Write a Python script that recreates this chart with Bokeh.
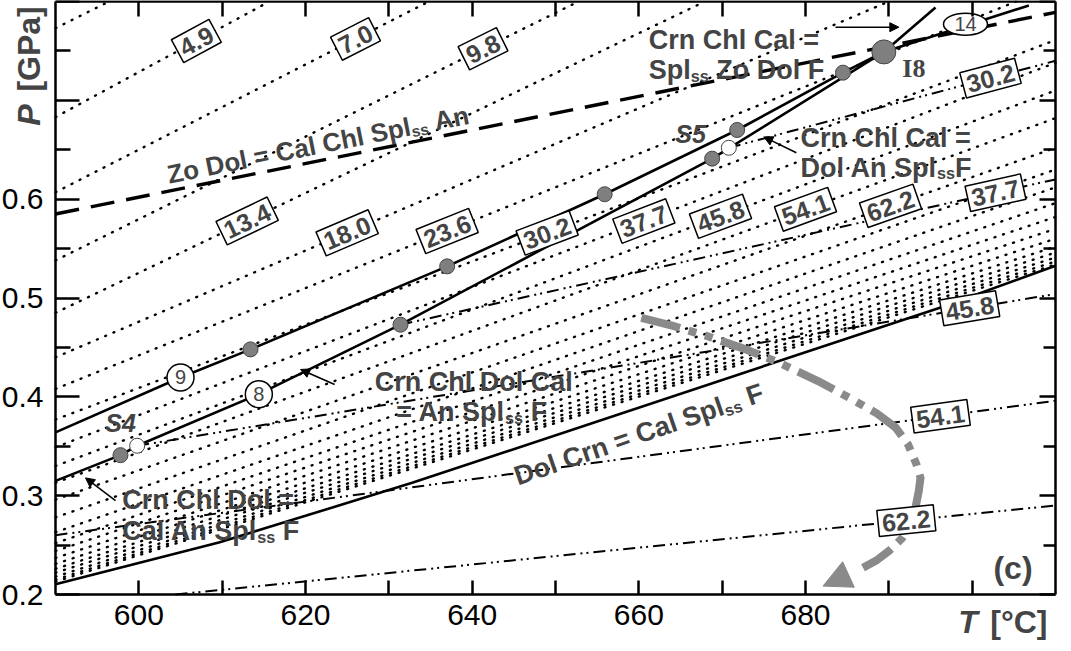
import json, math
import numpy as np
from bokeh.plotting import figure
from bokeh.models import (Label, Range1d, LinearAxis, FixedTicker, Arrow, NormalHead,
                          CustomJSTickFormatter)
from bokeh.embed import file_html
from bokeh.resources import INLINE

# ---------------- axes data ----------------
T_MIN, T_MAX = 590, 710
P_MIN, P_MAX = 0.2, 0.8
T_TICKS = [600, 610, 620, 630, 640, 650, 660, 670, 680, 690, 700]
T_LABELS = {"600": "600", "620": "620", "640": "640", "660": "660", "680": "680"}
P_TICKS = [0.2, 0.3, 0.4, 0.5, 0.6, 0.7, 0.8]
P_MINOR_TICKS = [0.25, 0.35, 0.45, 0.55, 0.65, 0.75]
P_LABELS = {"0.2": "0.2", "0.3": "0.3", "0.4": "0.4", "0.5": "0.5", "0.6": "0.6"}

# ---------------- reaction curves ----------------
R9_T = [590.0, 605.0, 613.4, 637.0, 655.9, 671.8, 684.5, 689.4]
R9_P = [0.364, 0.4196, 0.448, 0.532, 0.605, 0.670, 0.728, 0.749]
R8_T = [590.0, 597.8, 599.8, 614.4, 631.4, 668.8, 689.4]
R8_P = [0.315, 0.341, 0.3505, 0.4027, 0.473, 0.641, 0.749]
RUP_T = [689.4, 695.6]
RUP_P = [0.749, 0.794]
R14_T = [689.4, 706.8]
R14_P = [0.749, 0.796]
DOLCRN_T = [590.0, 609.6, 620.0, 632.8, 696.4, 710.0]
DOLCRN_P = [0.2104, 0.2526, 0.2796, 0.313, 0.491, 0.5326]
ZODOL_T = [590.0, 710.0]
ZODOL_P = [0.585, 0.789]

GREY_T = [597.8, 613.4, 631.4, 637.0, 655.9, 668.8, 671.8, 684.5]
GREY_P = [0.341, 0.448, 0.473, 0.532, 0.605, 0.641, 0.670, 0.728]
WHITE_T = [599.8, 670.8]
WHITE_P = [0.3505, 0.652]
I8_T, I8_P = 689.4, 0.749

# ---------------- dotted isopleths (P at 590 and at 710) ----------------
DOT_P590 = [0.773, 0.683, 0.607, 0.538, 0.485, 0.440, 0.408, 0.377, 0.349, 0.330, 0.313, 0.296,
            0.278, 0.263, 0.252, 0.244, 0.237, 0.231, 0.226, 0.222, 0.218, 0.215, 0.213]
DOT_P710 = [1.277, 1.230, 1.124, 1.039, 0.970, 0.872, 0.816, 0.761, 0.738, 0.710, 0.682, 0.652,
            0.630, 0.612, 0.596, 0.582, 0.570, 0.560, 0.552, 0.546, 0.541, 0.537, 0.534]
DOT_LABELS = ["", "4.9", "7.0", "9.8", "13.4", "18.0", "23.6", "30.2", "37.7", "45.8", "54.1", "62.2"]
DOT_LABEL_T = [None, 606.9, 626.0, 641.3, 613.0, 625.0, 637.0, 649.0, 660.6, 669.8, 680.0, 690.2]

# ---------------- dash-dot isopleths ----------------
DD_LABELS = ["30.2", "37.7", "45.8", "54.1", "62.2"]
DD_T0 = [670.8, 631.4, 599.8, 590.0, 604.4]
DD_P0 = [0.652, 0.473, 0.3505, 0.260, 0.200]
DD_T1 = [710.0, 710.0, 710.0, 710.0, 710.0]
DD_P1 = [0.740, 0.620, 0.504, 0.396, 0.290]
DD_LABEL_T = [702.2, 702.8, 699.7, 696.2, 692.1]

# ---------------- P-T path ----------------
PATH_T = [660.3, 664.0, 668.0, 672.5, 676.7, 681.5, 685.9, 688.6, 690.8, 692.3, 693.3, 693.8,
          693.6, 692.8, 691.6, 690.0, 688.6, 686.9]
PATH_P = [0.480, 0.472, 0.462, 0.449, 0.435, 0.416, 0.396, 0.383, 0.369, 0.352, 0.332, 0.318,
          0.305, 0.271, 0.257, 0.244, 0.235, 0.227]
PATH_TIP = (682.1, 0.2085)

# ---------------- figure geometry ----------------
# the plotting frame covers the whole canvas; the diagram box (590-710 / 0.2-0.8)
# is drawn by four axes at fixed locations, so that the axis titles can sit beside it
BOX_W, BOX_H = 1000, 593
PAD_L, PAD_R, PAD_T, PAD_B = 55, 2, 1, 49
PX_T = BOX_W / (T_MAX - T_MIN)
PX_P = BOX_H / (P_MAX - P_MIN)
FONT = "Liberation Sans"

p = figure(frame_width=BOX_W + PAD_L + PAD_R, frame_height=BOX_H + PAD_T + PAD_B,
           x_range=Range1d(T_MIN - PAD_L / PX_T, T_MAX + PAD_R / PX_T),
           y_range=Range1d(P_MIN - PAD_B / PX_P, P_MAX + PAD_T / PX_P),
           x_axis_location=None, y_axis_location=None,
           output_backend="svg", toolbar_location=None,
           min_border=0)
p.grid.grid_line_color = None
p.outline_line_color = None
p.background_fill_color = "white"
p.border_fill_color = "white"


def xfmt(labels):
    return CustomJSTickFormatter(code="const L = %s; const k = Math.round(tick).toString(); return (k in L) ? L[k] : '';" % json.dumps(labels))


def yfmt(labels):
    return CustomJSTickFormatter(code="const L = %s; const k = tick.toFixed(1); return (k in L) ? L[k] : '';" % json.dumps(labels))


def make_axis(ticks, minor, fmt, loc, bounds, tin, minor_in, show_labels, standoff=0):
    ax = LinearAxis(ticker=FixedTicker(ticks=ticks, minor_ticks=minor), formatter=fmt,
                    fixed_location=loc, bounds=bounds)
    ax.axis_line_width = 2.5
    ax.major_tick_line_width = 2.5
    ax.minor_tick_line_width = 2.5
    ax.major_tick_in = tin
    ax.major_tick_out = 0
    ax.minor_tick_in = minor_in
    ax.minor_tick_out = 0
    ax.major_label_text_font = FONT
    ax.major_label_text_color = "black"
    ax.major_label_text_font_size = "30px" if show_labels else "0px"
    ax.major_label_standoff = standoff
    return ax


p.add_layout(make_axis(T_TICKS, [], xfmt(T_LABELS), P_MIN, (T_MIN, T_MAX), 14, 0, True, 10), "below")
p.add_layout(make_axis(T_TICKS, [], xfmt({}), P_MAX, (T_MIN, T_MAX), 15, 0, False), "above")
p.add_layout(make_axis(P_TICKS, P_MINOR_TICKS, yfmt(P_LABELS), T_MIN, (P_MIN, P_MAX), 24, 15, True, 12), "left")
p.add_layout(make_axis(P_TICKS, P_MINOR_TICKS, yfmt({}), T_MAX, (P_MIN, P_MAX), 16, 12, False), "right")


def in_box(xs, ys, above_dolcrn=False):
    xs = np.asarray(xs, dtype=float)
    ys = np.asarray(ys, dtype=float)
    m = (xs >= T_MIN) & (xs <= T_MAX) & (ys >= P_MIN) & (ys <= P_MAX)
    if above_dolcrn:
        m &= ys >= np.interp(xs, DOLCRN_T, DOLCRN_P) + 0.001
    return xs[m], ys[m]


# dotted isopleths, kept inside the box and above the Dol Crn reaction
for a, b in zip(DOT_P590, DOT_P710):
    xs = np.linspace(T_MIN, T_MAX, 2401)
    ys = a + (b - a) * (xs - T_MIN) / (T_MAX - T_MIN)
    cx, cy = in_box(xs, ys, True)
    if len(cx) > 1:
        p.line(cx, cy, line_color="black", line_width=2.4, line_dash="1 8", line_cap="round")

# dash-dot isopleths
for t0, p0, t1, p1 in zip(DD_T0, DD_P0, DD_T1, DD_P1):
    p.line([t0, t1], [p0, p1], line_color="black", line_width=2, line_dash="12 5 2 4 2 5")

# Zo Dol long dash
p.line(ZODOL_T, ZODOL_P, line_color="black", line_width=3.4, line_dash="24 12")
# Dol Crn
p.line(DOLCRN_T, DOLCRN_P, line_color="black", line_width=2.6)
# reactions
p.line(R9_T, R9_P, line_color="black", line_width=2.6)
p.line(R8_T, R8_P, line_color="black", line_width=2.6)
p.line(RUP_T, RUP_P, line_color="black", line_width=2.6)
p.line(R14_T, R14_P, line_color="black", line_width=2.6)

# P-T path
p.line(PATH_T, PATH_P, line_color="#8a8a8a", line_width=8, line_dash="40 9 8 9 8 9",
       line_join="round")
p.add_layout(Arrow(end=NormalHead(size=28, fill_color="#8a8a8a", line_color="#8a8a8a"),
                   x_start=PATH_T[-1], y_start=PATH_P[-1], x_end=PATH_TIP[0], y_end=PATH_TIP[1],
                   line_alpha=0))

# points
p.scatter(GREY_T, GREY_P, size=15, fill_color="#7f7f7f", line_color="#444444", line_width=1)
p.scatter(WHITE_T, WHITE_P, size=15, fill_color="white", line_color="#444444", line_width=1)
p.scatter([I8_T], [I8_P], size=24, fill_color="#7f7f7f", line_color="#444444", line_width=1)


def angle_of(a, b):
    return math.atan((b - a) / (T_MAX - T_MIN) * PX_P / PX_T)


def box(x, y, text, ang):
    p.add_layout(Label(x=x, y=y, text=text, angle=ang, text_font=FONT, text_font_size="25px",
                       text_font_style="bold", text_align="center", text_baseline="middle",
                       background_fill_color="white", border_line_color="black",
                       border_line_width=1.5, padding=4))


for i, lab in enumerate(DOT_LABELS):
    if lab:
        a, b = DOT_P590[i], DOT_P710[i]
        t = DOT_LABEL_T[i]
        box(t, a + (b - a) * (t - T_MIN) / (T_MAX - T_MIN), lab, angle_of(a, b))

for i, lab in enumerate(DD_LABELS):
    t0, p0, t1, p1 = DD_T0[i], DD_P0[i], DD_T1[i], DD_P1[i]
    t = DD_LABEL_T[i]
    pp = p0 + (p1 - p0) * (t - t0) / (t1 - t0)
    ang = math.atan((p1 - p0) / (t1 - t0) * PX_P / PX_T)
    box(t, pp, lab, ang)

# circled reaction numbers
p.scatter([605.0, 614.4], [0.4196, 0.4027], size=27, fill_color="white", line_color="black", line_width=1.5)
p.ellipse([699.2], [0.777], width=44, height=22, width_units="screen", height_units="screen",
          fill_color="white", line_color="black", line_width=1.5)
for (tx, ty, s) in [(605.0, 0.4196, "9"), (614.4, 0.4027, "8"), (699.2, 0.777, "14")]:
    p.add_layout(Label(x=tx, y=ty, text=s, text_font=FONT, text_font_size="20px",
                       text_align="center", text_baseline="middle"))

# ---------------- rich texts ----------------
W = {' ': .278, '=': .584, '.': .278, 'A': .722, 'C': .722, 'D': .722, 'F': .611, 'S': .667,
     'Z': .611, 'a': .556, 'h': .611, 'l': .278, 'n': .611, 'o': .611, 'p': .611, 'r': .389,
     's': .556}


def tw(s, size):
    return sum(W.get(c, .6) for c in s) * size


def rich(x, y, segs, angle=0.0, size=27, center=False):
    """segs: list of (text, is_subscript)."""
    sub = size * 0.6
    total = sum(tw(t, sub if s else size) for t, s in segs)
    cum = -total / 2 if center else 0.0
    ca, sa = math.cos(angle), math.sin(angle)
    for t, s in segs:
        fs = sub if s else size
        lead = len(t) - len(t.lstrip(" "))
        cum += tw(" " * lead, fs)
        body = t.strip(" ")
        dy = -size * 0.22 if s else 0.0
        xo = cum * ca - dy * sa
        yo = cum * sa + dy * ca
        p.add_layout(Label(x=x, y=y, x_offset=xo, y_offset=yo, text=body, angle=angle,
                           text_font=FONT, text_font_size="%.1fpx" % fs, text_font_style="bold",
                           text_align="left", text_baseline="alphabetic"))
        cum += tw(body, fs)
        trail = len(t) - len(t.rstrip(" "))
        cum += tw(" " * trail, fs)


rich(661.2, 0.761, [("Crn Chl Cal =", False)])
rich(661.2, 0.731, [("Spl", False), ("ss", True), (" Zo Dol F", False)])
rich(679.4, 0.662, [("Crn Chl Cal  =", False)])
rich(679.4, 0.632, [("Dol An Spl", False), ("ss", True), ("F", False)])
rich(628.3, 0.415, [("Crn Chl Dol Cal", False)])
rich(630.9, 0.385, [("= An Spl", False), ("ss", True), (" F", False)])
rich(598.0, 0.296, [("Crn Chl Dol  =", False)])
rich(598.0, 0.264, [("Cal An Spl", False), ("ss", True), (" F", False)])
rich(621.5, 0.655, [("Zo Dol = Cal Chl Spl", False), ("ss", True), (" An", False)],
     angle=math.radians(11.3), size=26, center=True)
rich(660.0, 0.362, [("Dol Crn = Cal Spl", False), ("ss", True), (" F", False)],
     angle=math.radians(19), center=True)

for (x0, y0, x1, y1) in [(683.6, 0.774, 691.2, 0.774), (678.9, 0.647, 675.0, 0.663),
                         (623.5, 0.4125, 619.4, 0.4277), (597.2, 0.295, 593.6, 0.318)]:
    p.add_layout(Arrow(end=NormalHead(size=9, fill_color="black", line_color="black"),
                       x_start=x0, y_start=y0, x_end=x1, y_end=y1, line_width=1.5))

# point names
p.add_layout(Label(x=597.8, y=0.374, text="S4", text_font=FONT, text_font_size="25px",
                   text_font_style="bold italic", text_align="center", text_baseline="middle"))
p.add_layout(Label(x=666.2, y=0.666, text="S5", text_font=FONT, text_font_size="25px",
                   text_font_style="bold italic", text_align="center", text_baseline="middle"))
p.add_layout(Label(x=693.0, y=0.732, text="I8", text_font="Liberation Serif", text_font_size="26px",
                   text_font_style="bold", text_align="center", text_baseline="middle"))
p.add_layout(Label(x=704.9, y=0.227, text="(c)", text_font=FONT, text_font_size="32px",
                   text_font_style="bold", text_align="center", text_baseline="middle"))

# axis titles
p.add_layout(Label(x=586.8, y=0.685, text="P", angle=math.pi / 2, text_font=FONT,
                   text_font_size="32px", text_font_style="bold italic",
                   text_align="center", text_baseline="middle"))
p.add_layout(Label(x=586.8, y=0.752, text="[GPa]", angle=math.pi / 2, text_font=FONT,
                   text_font_size="32px", text_font_style="bold",
                   text_align="center", text_baseline="middle"))
p.add_layout(Label(x=699.5, y=0.172, text="T", text_font=FONT,
                   text_font_size="32px", text_font_style="bold italic",
                   text_align="center", text_baseline="middle"))
p.add_layout(Label(x=705.6, y=0.172, text="[°C]", text_font=FONT,
                   text_font_size="32px", text_font_style="bold",
                   text_align="center", text_baseline="middle"))

open("out.html", "w").write(file_html(p, INLINE))
